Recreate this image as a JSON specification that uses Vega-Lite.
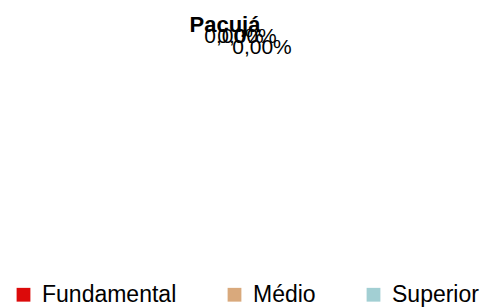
{
  "$schema": "https://vega.github.io/schema/vega-lite/v6.json",
  "width": 490,
  "height": 308,
  "autosize": {"type": "none"},
  "padding": 0,
  "background": "white",
  "title": {
    "text": "Pacujá",
    "font": "Liberation Sans",
    "fontSize": 22,
    "fontWeight": "bold",
    "color": "black",
    "anchor": "middle",
    "baseline": "alphabetic",
    "offset": -54,
    "dx": -20
  },
  "config": {"view": {"stroke": null}},
  "data": {
    "values": [
      {"categoria": "Fundamental", "valor": 0, "rotulo": "0,00%"},
      {"categoria": "Médio", "valor": 0, "rotulo": "0,00%"},
      {"categoria": "Superior", "valor": 0, "rotulo": "0,00%"}
    ]
  },
  "layer": [
    {
      "mark": {"type": "arc", "outerRadius": 100},
      "encoding": {
        "theta": {"field": "valor", "type": "quantitative", "stack": true, "scale": {"domain": [0, 1]}},
        "color": {
          "field": "categoria",
          "type": "nominal",
          "sort": ["Fundamental", "Médio", "Superior"],
          "scale": {"domain": ["Fundamental", "Médio", "Superior"], "range": ["#DC0A0A", "#D9A97C", "#A2CFD3"]},
          "legend": {
            "orient": "none",
            "legendX": 12,
            "legendY": 283,
            "padding": 0,
            "direction": "horizontal",
            "title": null,
            "symbolType": "square",
            "symbolSize": 190,
            "symbolStrokeWidth": 0,
            "labelFont": "Liberation Sans",
            "labelFontSize": 23,
            "labelColor": "black",
            "labelLimit": 300,
            "columnPadding": 46,
            "symbolOffset": 0,
            "labelOffset": 7
          }
        }
      }
    },
    {
      "transform": [{"filter": "datum.categoria === 'Fundamental'"}],
      "mark": {"type": "text", "radius": 117, "font": "Liberation Sans", "fontSize": 21, "color": "black", "dx": -11, "dy": 0},
      "encoding": {
        "theta": {"field": "valor", "type": "quantitative", "scale": {"domain": [0, 1]}},
        "text": {"field": "rotulo"}
      }
    },
    {
      "transform": [{"filter": "datum.categoria === 'Médio'"}],
      "mark": {"type": "text", "radius": 117, "font": "Liberation Sans", "fontSize": 21, "color": "black", "dx": 2, "dy": 0},
      "encoding": {
        "theta": {"field": "valor", "type": "quantitative", "scale": {"domain": [0, 1]}},
        "text": {"field": "rotulo"}
      }
    },
    {
      "transform": [{"filter": "datum.categoria === 'Superior'"}],
      "mark": {"type": "text", "radius": 117, "font": "Liberation Sans", "fontSize": 21, "color": "black", "dx": 17, "dy": 11},
      "encoding": {
        "theta": {"field": "valor", "type": "quantitative", "scale": {"domain": [0, 1]}},
        "text": {"field": "rotulo"}
      }
    }
  ]
}
